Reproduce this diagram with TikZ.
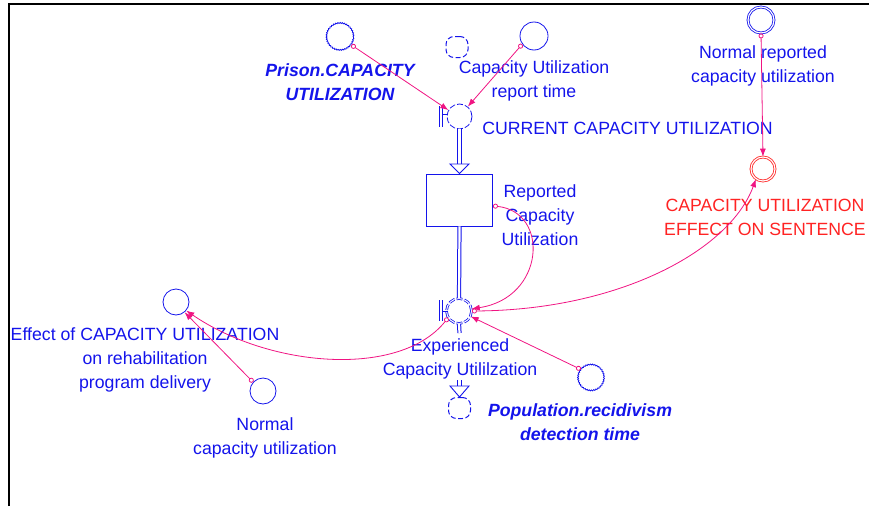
\documentclass[tikz,border=0pt]{standalone}
\usepackage{fontspec}
\setmainfont{Liberation Sans}
\usetikzlibrary{arrows.meta, decorations.pathmorphing}

\definecolor{sdblue}{RGB}{20,20,235}
\definecolor{linkpink}{RGB}{240,20,130}
\definecolor{auxred}{RGB}{255,35,35}

\tikzset{
    conv/.style={circle, draw=sdblue, line width=0.8pt, minimum size=26pt, inner sep=0pt},
    ghost/.style={conv, decorate, decoration={snake, amplitude=0.5pt, segment length=2.2pt}},
    twin/.style={conv, double, double distance=1.2pt},
    cloudy/.style={draw=sdblue, rounded corners=8pt, dash pattern=on 5pt off 2.5pt, line width=1pt, minimum width=22pt, minimum height=21pt, inner sep=0pt},
    valve/.style={circle, draw=sdblue, dash pattern=on 6pt off 2pt, line width=0.8pt, minimum size=25pt, inner sep=0pt},
    stockbox/.style={draw=sdblue, line width=0.9pt, minimum width=66pt, minimum height=52pt, inner sep=0pt},
    pipe/.style={draw=sdblue, double, double distance=2.2pt, line width=1pt},
    head/.style={draw=sdblue, line width=0.9pt, fill=white},
    lbl/.style={text=sdblue, align=center, inner sep=0pt},
    link/.style={draw=linkpink, line width=0.8pt, {Circle[open, length=5pt, width=5pt]}-{Latex[length=8pt, width=6pt]}},
}

\begin{document}
\begin{tikzpicture}[x=1pt, y=-1pt, font=\fontsize{17.7}{24}\selectfont]
    \useasboundingbox (0,0) rectangle (869,506);
    \draw[line width=2pt] (9,506) -- (9,4) -- (869,4);

    % stock, valves and clouds
    \node[stockbox] (stock) at (459.5,200) {};
    \node[valve] (v1) at (459.5,116.5) {};
    \node[valve, double, double distance=1pt] (v2) at (459,311) {};
    \node[cloudy] (cloudtop) at (457,47) {};
    \node[cloudy] (cloudbot) at (459.5,408) {};

    % pipes
    \coordinate (h1) at (459.5,164);
    \draw[pipe] (v1.south) -- (h1);
    \draw[head] (450,164) -- (stock.north) -- (469,164) -- cycle;
    \draw[pipe] (stock.south) -- (v2.north);
    \coordinate (s2) at (459.5,333);
    \draw[pipe] (v2.south) -- (s2);
    \coordinate (s3) at (459.5,380);
    \coordinate (h2) at (459.5,386);
    \draw[pipe] (s3) -- (h2);
    \draw[head] (450,386) -- (cloudbot.north) -- (469,386) -- cycle;

    % valve handles
    \draw[sdblue, line width=0.9pt] (439,106) -- (439,127) (442,106) -- (442,127) (442,114) -- (447,114);
    \draw[sdblue, line width=0.9pt] (439,300) -- (439,321) (442,300) -- (442,321) (442,311) -- (448,311);

    % converters
    \node[ghost, minimum size=27pt] (prison) at (340,37) {};
    \node[conv, minimum size=28pt] (report) at (534,36) {};
    \node[twin] (normrep) at (761,20) {};
    \node[twin, draw=auxred, minimum size=24pt] (cues) at (763,169) {};
    \node[conv] (effect) at (176,302) {};
    \node[conv] (normcap) at (263,391) {};
    \node[ghost] (pop) at (591,378) {};

    % labels
    \node[lbl, font=\fontsize{17.7}{24}\selectfont\bfseries\itshape] (prisonlbl) at (340,82) {Prison.CAPACITY\\UTILIZATION};
    \node[lbl] (reportlbl) at (534,81) {Capacity Utilization\\report time};
    \node[lbl] (v1lbl) at (627.5,128) {CURRENT CAPACITY UTILIZATION};
    \node[lbl] (stocklbl) at (540,215) {Reported\\Capacity\\Utilization};
    \node[lbl] (v2lbl) at (460,359) {Experienced\\Capacity Utililzation};
    \node[lbl, font=\fontsize{17.7}{24}\selectfont\bfseries\itshape] (poplbl) at (580,422) {Population.recidivism\\detection time};
    \node[lbl] (effectlbl) at (145,360) {Effect of CAPACITY UTILIZATION\\on rehabilitation\\program delivery};
    \node[lbl] (normcaplbl) at (265,438) {Normal\\capacity utilization};
    \node[lbl] (normreplbl) at (763,66) {Normal reported\\capacity utilization};
    \node[lbl, text=auxred] (cueslbl) at (765,217) {CAPACITY UTILIZATION\\EFFECT ON SENTENCE};

    % links
    \draw[link] (prison.-35) -- (v1.150);
    \draw[link] (report.-145) -- (v1.50);
    \draw[link] (normrep.south) -- (cues.north);
    \draw[link] (stock.-10) .. controls (550,212) and (545,298) .. (v2.10);
    \draw[link] (v2.0) .. controls (620,310) and (730,250) .. (cues.-125);
    \draw[link] (v2.-148) .. controls (400,378) and (270,368) .. (effect.-40);
    \draw[link] (normcap.138) -- (effect.-50);
    \draw[link] (pop.140) -- (v2.-25);
\end{tikzpicture}
\end{document}
